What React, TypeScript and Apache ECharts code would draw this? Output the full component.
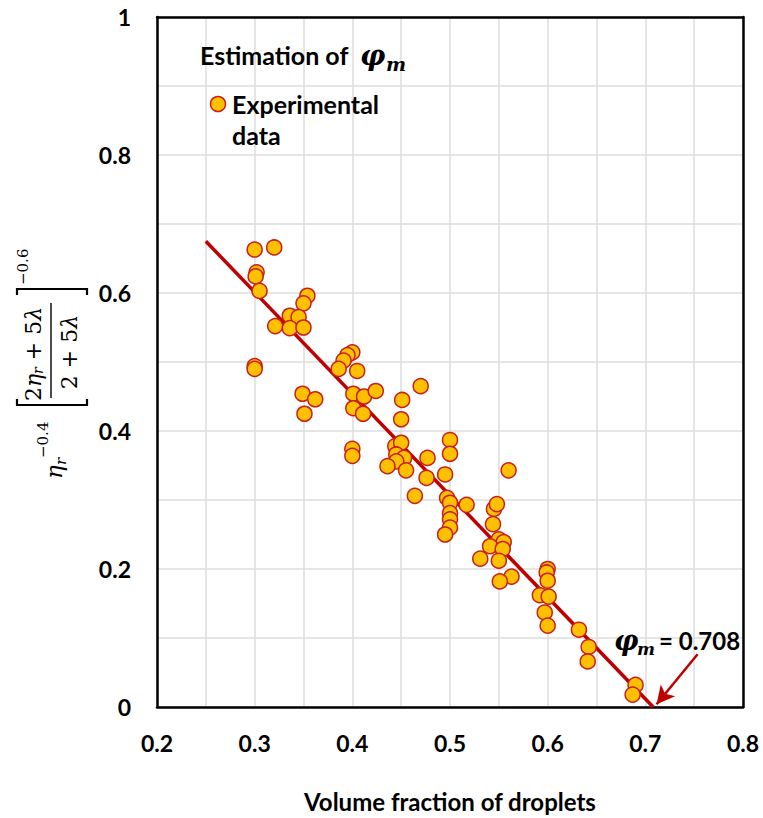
import React, { useEffect, useRef } from "react";
import * as echarts from "echarts";

// Experimental data: volume fraction of droplets (x) and the normalized viscosity function (y)
const volumeFraction = [
  0.300, 0.320, 0.302, 0.301, 0.305, 0.354, 0.350, 0.336, 0.345, 0.321,
  0.336, 0.350, 0.300, 0.300, 0.400, 0.395, 0.391, 0.386, 0.405, 0.349,
  0.362, 0.351, 0.401, 0.401, 0.412, 0.424, 0.411, 0.451, 0.450, 0.470,
  0.400, 0.400, 0.444, 0.450, 0.445, 0.453, 0.445, 0.436, 0.455, 0.477,
  0.476, 0.495, 0.500, 0.500, 0.464, 0.497, 0.500, 0.517, 0.545, 0.548,
  0.560, 0.500, 0.500, 0.500, 0.544,
  0.495, 0.550, 0.555, 0.541, 0.554, 0.550, 0.531, 0.563, 0.551, 0.600,
  0.599, 0.600, 0.592, 0.601,
  0.597, 0.600, 0.632, 0.642, 0.641, 0.690, 0.687,
];
const viscosityFunction = [
  0.663, 0.666, 0.630, 0.624, 0.603, 0.596, 0.585, 0.567, 0.565, 0.552,
  0.549, 0.550, 0.494, 0.490, 0.514, 0.510, 0.502, 0.490, 0.487, 0.454,
  0.446, 0.425, 0.454, 0.433, 0.450, 0.458, 0.425, 0.445, 0.417, 0.465,
  0.374, 0.364, 0.378, 0.383, 0.366, 0.361, 0.356, 0.349, 0.343, 0.361,
  0.332, 0.337, 0.387, 0.367, 0.306, 0.303, 0.296, 0.293, 0.287, 0.294,
  0.343, 0.281, 0.272, 0.260, 0.265,
  0.250, 0.243, 0.239, 0.233, 0.229, 0.212, 0.215, 0.189, 0.182, 0.200,
  0.195, 0.183, 0.162, 0.160,
  0.137, 0.118, 0.112, 0.087, 0.066, 0.032, 0.018,
];

// Linear fit: endpoints
const fitX = [0.25, 0.708];
const fitY = [0.675, 0];

// Arrow annotation (data coordinates): start, end
const arrowX = [0.7535, 0.7115];
const arrowY = [0.0765, 0.004];
const phiM = "0.708";

const xMin = 0.2, xMax = 0.8, xStep = 0.05;
const yMin = 0, yMax = 1, yStep = 0.1;

const SANS = 'Lato, "Open Sans", sans-serif';
const MATH = '"DejaVu Serif", serif';
const RED = "#C00000";
const GOLD = "#FFC000";
const MARK_BORDER = "#C81E1E";
const ZTOP = 100;

function txt(x: number, y: number, text: string, font: string, align = "left", extra: any = {}) {
  return {
    type: "text",
    x,
    y,
    z: ZTOP,
    silent: true,
    style: {
      text,
      font,
      fill: "#000",
      align,
      textAlign: align,
      verticalAlign: "middle",
      textVerticalAlign: "middle",
      ...extra,
    },
  };
}

export default function App() {
  const ref = useRef<HTMLDivElement>(null);
  useEffect(() => {
    if (!ref.current) return;
    const chart = echarts.init(ref.current, undefined, { renderer: "svg" });
    const points = volumeFraction.map((v, i) => [v, viscosityFunction[i]]);
    const fit = fitX.map((v, i) => [v, fitY[i]]);

    const yLabel = {
      type: "group",
      x: 51,
      y: 355,
      z: ZTOP,
      rotation: Math.PI / 2,
      children: [
        txt(-124, 3, "η", `italic 23px ${MATH}`),
        txt(-110, 10, "r", `italic 15px ${MATH}`),
        txt(-103, -8, "−0.4", `15px ${MATH}`),
        {
          type: "polyline",
          z: ZTOP,
          silent: true,
          shape: { points: [[-44, -34], [-50, -34], [-50, 36], [-44, 36]] },
          style: { stroke: "#000", lineWidth: 2.2, fill: "none" },
        },
        {
          type: "text",
          x: 1,
          y: -18,
          z: ZTOP,
          silent: true,
          style: {
            text: "2{it|η}{sub|r} + 5{it|λ}",
            font: `22px ${MATH}`,
            fill: "#000",
            align: "center",
            textAlign: "center",
            verticalAlign: "middle",
            textVerticalAlign: "middle",
            rich: {
              it: { fontStyle: "italic", fontSize: 22, fontFamily: MATH },
              sub: { fontStyle: "italic", fontSize: 14, fontFamily: MATH, verticalAlign: "bottom", padding: [10, 0, 0, 0] },
            },
          },
        },
        {
          type: "line",
          z: ZTOP,
          silent: true,
          shape: { x1: -43, y1: 0, x2: 52, y2: 0 },
          style: { stroke: "#000", lineWidth: 1.4 },
        },
        {
          type: "text",
          x: 3,
          y: 18,
          z: ZTOP,
          silent: true,
          style: {
            text: "2 + 5{it|λ}",
            font: `22px ${MATH}`,
            fill: "#000",
            align: "center",
            textAlign: "center",
            verticalAlign: "middle",
            textVerticalAlign: "middle",
            rich: { it: { fontStyle: "italic", fontSize: 22, fontFamily: MATH } },
          },
        },
        {
          type: "polyline",
          z: ZTOP,
          silent: true,
          shape: { points: [[60, -34], [66, -34], [66, 36], [60, 36]] },
          style: { stroke: "#000", lineWidth: 2.2, fill: "none" },
        },
        txt(70, -28, "−0.6", `15px ${MATH}`),
      ],
    };

    const frameAxisLine = { show: true, onZero: false, lineStyle: { color: "#000", width: 2.5 } };

    chart.setOption({
      animation: false,
      backgroundColor: "#fff",
      grid: {
        left: 157,
        right: 20,
        top: 17,
        bottom: 108,
      },
      xAxis: [
        {
          type: "value",
          min: xMin,
          max: xMax,
          interval: xStep,
          name: "Volume fraction of droplets",
          nameLocation: "middle",
          nameGap: 82,
          nameTextStyle: { fontFamily: SANS, fontWeight: "bold", fontSize: 24, color: "#000" },
          axisLine: frameAxisLine,
          axisTick: { show: false },
          axisLabel: {
            margin: 24,
            fontFamily: SANS,
            fontWeight: "bold",
            fontSize: 23,
            color: "#000",
            formatter: (v: number) => (Math.round(v * 100) % 10 === 0 ? v.toFixed(1) : ""),
          },
          splitLine: { show: true, lineStyle: { color: "#dddddd", width: 1.5 } },
          z: 1,
        },
        {
          type: "value",
          position: "top",
          min: xMin,
          max: xMax,
          interval: xStep,
          axisLine: frameAxisLine,
          axisTick: { show: false },
          axisLabel: { show: false },
          splitLine: { show: false },
          z: 5,
        },
      ],
      yAxis: [
        {
          type: "value",
          min: yMin,
          max: yMax,
          interval: yStep,
          axisLine: frameAxisLine,
          axisTick: { show: false },
          axisLabel: {
            margin: 26,
            fontFamily: SANS,
            fontWeight: "bold",
            fontSize: 23,
            color: "#000",
            formatter: (v: number) => {
              const k = Math.round(v * 10);
              if (k % 2 !== 0) return "";
              if (k === 0) return "0";
              if (k === 10) return "1";
              return v.toFixed(1);
            },
          },
          splitLine: { show: true, lineStyle: { color: "#dddddd", width: 1.5 } },
          z: 1,
        },
        {
          type: "value",
          position: "right",
          min: yMin,
          max: yMax,
          interval: yStep,
          axisLine: frameAxisLine,
          axisTick: { show: false },
          axisLabel: { show: false },
          splitLine: { show: false },
          z: 5,
        },
      ],
      series: [
        {
          name: "Linear fit",
          type: "line",
          data: fit,
          showSymbol: false,
          symbol: "none",
          z: 2,
          lineStyle: { color: RED, width: 3.5 },
          markLine: {
            silent: true,
            symbol: ["none", "arrow"],
            symbolSize: [14, 18],
            label: { show: false },
            lineStyle: { color: RED, width: 2.5, type: "solid" },
            data: [[{ coord: [arrowX[0], arrowY[0]] }, { coord: [arrowX[1], arrowY[1]] }]],
          },
        },
        {
          name: "Experimental data",
          type: "scatter",
          data: points,
          symbol: "circle",
          symbolSize: 15,
          z: 3,
          itemStyle: { color: GOLD, borderColor: MARK_BORDER, borderWidth: 1.5, opacity: 1 },
        },
      ],
      graphic: [
        yLabel,
        txt(200, 55, "Estimation of", `bold 25px ${SANS}`),
        txt(360, 55, "φ", `bold italic 28px ${MATH}`),
        txt(386, 64, "m", `bold italic 19px ${MATH}`),
        {
          type: "circle",
          z: ZTOP,
          silent: true,
          shape: { cx: 218, cy: 104, r: 7.5 },
          style: { fill: GOLD, stroke: MARK_BORDER, lineWidth: 1.5 },
        },
        txt(232, 104, "Experimental", `bold 25px ${SANS}`),
        txt(232, 135, "data", `bold 25px ${SANS}`),
        txt(614, 640, "φ", `bold italic 27px ${MATH}`),
        txt(637, 649, "m", `bold italic 17px ${MATH}`),
        txt(659, 640, "= " + phiM, `bold 24px ${SANS}`),
      ],
    });
    return () => chart.dispose();
  }, []);
  return (
    <div
      ref={ref}
      style={{ position: "absolute", left: 0, top: 0, width: 763, height: 818 }}
    />
  );
}
